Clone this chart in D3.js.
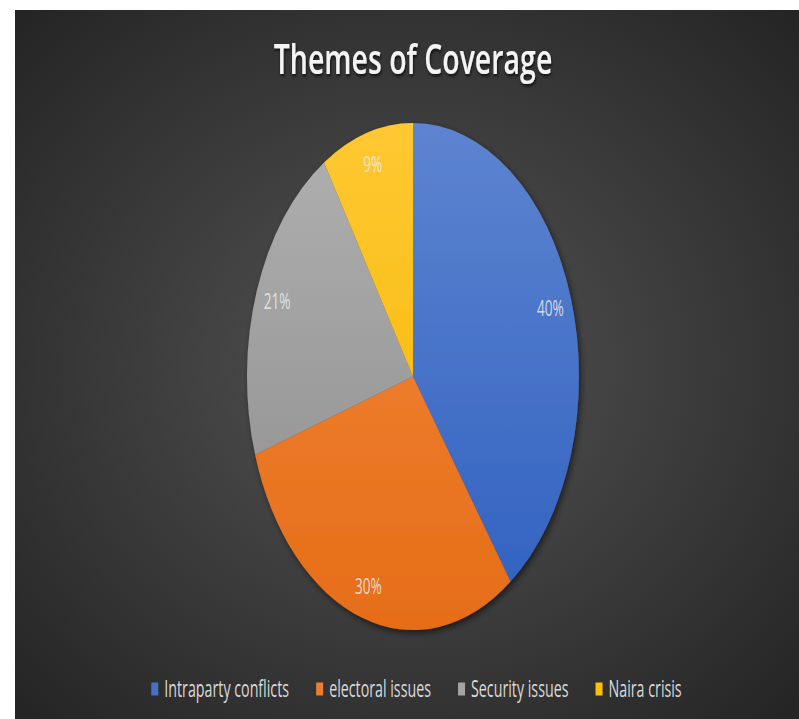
<!DOCTYPE html>
<html>
<head>
<meta charset="utf-8">
<script src="https://cdn.jsdelivr.net/npm/d3@7"></script>
<style>
  html, body { margin: 0; padding: 0; background: #fff; }
  svg { display: block; }
</style>
</head>
<body>
<div id="chart"></div>
<script>
// chart data
const categories = ["Intraparty conflicts", "electoral issues", "Security issues", "Naira crisis"];
const values = [40, 30, 21, 9];
const labels = ["40%", "30%", "21%", "9%"];
const colorsTop = ["#5d84d0", "#f28a3d", "#b0b0b0", "#ffc832"];
const colorsBottom = ["#2f60c0", "#e66d18", "#8c8c8c", "#f2b600"];
const legendColors = ["#4472c4", "#ed7d31", "#a5a5a5", "#ffc000"];
const title = "Themes of Coverage";

const width = 799, height = 719;
const frame = {left: 15, top: 10};
const cx = 413, cy = 376.5, rx = 166, ry = 253.5;
const textScale = 0.62;   // the source text is tall and narrow

const svg = d3.select("#chart").append("svg")
  .attr("width", width)
  .attr("height", height);

const defs = svg.append("defs");

const bg = defs.append("radialGradient")
  .attr("id", "bg")
  .attr("cx", "50%").attr("cy", "50%").attr("r", "72%");
bg.append("stop").attr("offset", "0%").attr("stop-color", "#545454");
bg.append("stop").attr("offset", "100%").attr("stop-color", "#232323");

categories.forEach((c, i) => {
  const g = defs.append("linearGradient")
    .attr("id", "slice" + i)
    .attr("gradientUnits", "userSpaceOnUse")
    .attr("x1", 0).attr("x2", 0)
    .attr("y1", -rx).attr("y2", rx);
  g.append("stop").attr("offset", "0%").attr("stop-color", colorsTop[i]);
  g.append("stop").attr("offset", "100%").attr("stop-color", colorsBottom[i]);
});

const shadow = defs.append("filter").attr("id", "shadow")
  .attr("x", "-20%").attr("y", "-20%").attr("width", "140%").attr("height", "140%");
shadow.append("feDropShadow")
  .attr("dx", 2).attr("dy", 3).attr("stdDeviation", 3)
  .attr("flood-color", "#000").attr("flood-opacity", 0.55);

const textShadow = defs.append("filter").attr("id", "tshadow");
textShadow.append("feDropShadow")
  .attr("dx", 1).attr("dy", 2).attr("stdDeviation", 1.2)
  .attr("flood-color", "#000").attr("flood-opacity", 0.7);

svg.append("rect")
  .attr("x", frame.left).attr("y", frame.top)
  .attr("width", width - frame.left).attr("height", height - frame.top)
  .attr("fill", "url(#bg)");

// title
svg.append("text")
  .attr("transform", `translate(${cx},74) scale(0.77,1.12)`)
  .attr("text-anchor", "middle")
  .attr("font-family", "'Open Sans', sans-serif")
  .attr("font-weight", 600)
  .attr("font-size", 37)
  .attr("fill", "#f4f4f4")
  .attr("filter", "url(#tshadow)")
  .text(title);

// pie, drawn as a circle and stretched into the ellipse
const pie = d3.pie().sort(null).value(d => d);
const arcs = pie(values);
const arc = d3.arc().innerRadius(0).outerRadius(rx);

const pieG = svg.append("g")
  .attr("transform", `translate(${cx},${cy})`)
  .attr("filter", "url(#shadow)");

pieG.append("g")
  .attr("transform", `scale(1,${ry / rx})`)
  .selectAll("path")
  .data(arcs)
  .join("path")
    .attr("d", arc)
    .attr("fill", (d, i) => `url(#slice${i})`);

const labelR = 0.87;
svg.append("g")
  .attr("transform", `translate(${cx},${cy})`)
  .selectAll("text")
  .data(arcs)
  .join("text")
    .attr("transform", d => {
      const a = (d.startAngle + d.endAngle) / 2;
      const x = Math.sin(a) * rx * labelR;
      const y = -Math.cos(a) * ry * labelR;
      return `translate(${x},${y}) scale(0.72,1.1)`;
    })
    .attr("text-anchor", "middle")
    .attr("dy", "0.35em")
    .attr("font-family", "'Open Sans', sans-serif")
    .attr("font-size", 19)
    .attr("fill", "#ececec")
    .attr("fill-opacity", 0.85)
    .text((d, i) => labels[i]);

// legend
const legendY = 689;
const swatchW = 7, swatchH = 13, swatchGap = 6, itemGap = 27;
const legend = svg.append("g");
const items = legend.selectAll("g")
  .data(categories)
  .join("g");

items.append("rect")
  .attr("width", swatchW).attr("height", swatchH)
  .attr("y", legendY - swatchH / 2)
  .attr("fill", (d, i) => legendColors[i]);

items.append("text")
  .attr("font-family", "'Open Sans', sans-serif")
  .attr("font-size", 23)
  .attr("fill", "#d9d9d9")
  .attr("dy", "0.35em")
  .text(d => d);

const widths = [];
items.each(function () {
  const t = d3.select(this).select("text");
  widths.push(t.node().getComputedTextLength() * textScale);
});
const total = d3.sum(widths) + categories.length * (swatchW + swatchGap) + (categories.length - 1) * itemGap;
let x0 = 416.5 - total / 2;
items.each(function (d, i) {
  const g = d3.select(this);
  g.select("rect").attr("x", x0);
  g.select("text").attr("transform", `translate(${x0 + swatchW + swatchGap},${legendY}) scale(${textScale},1)`);
  x0 += swatchW + swatchGap + widths[i] + itemGap;
});
</script>
</body>
</html>
